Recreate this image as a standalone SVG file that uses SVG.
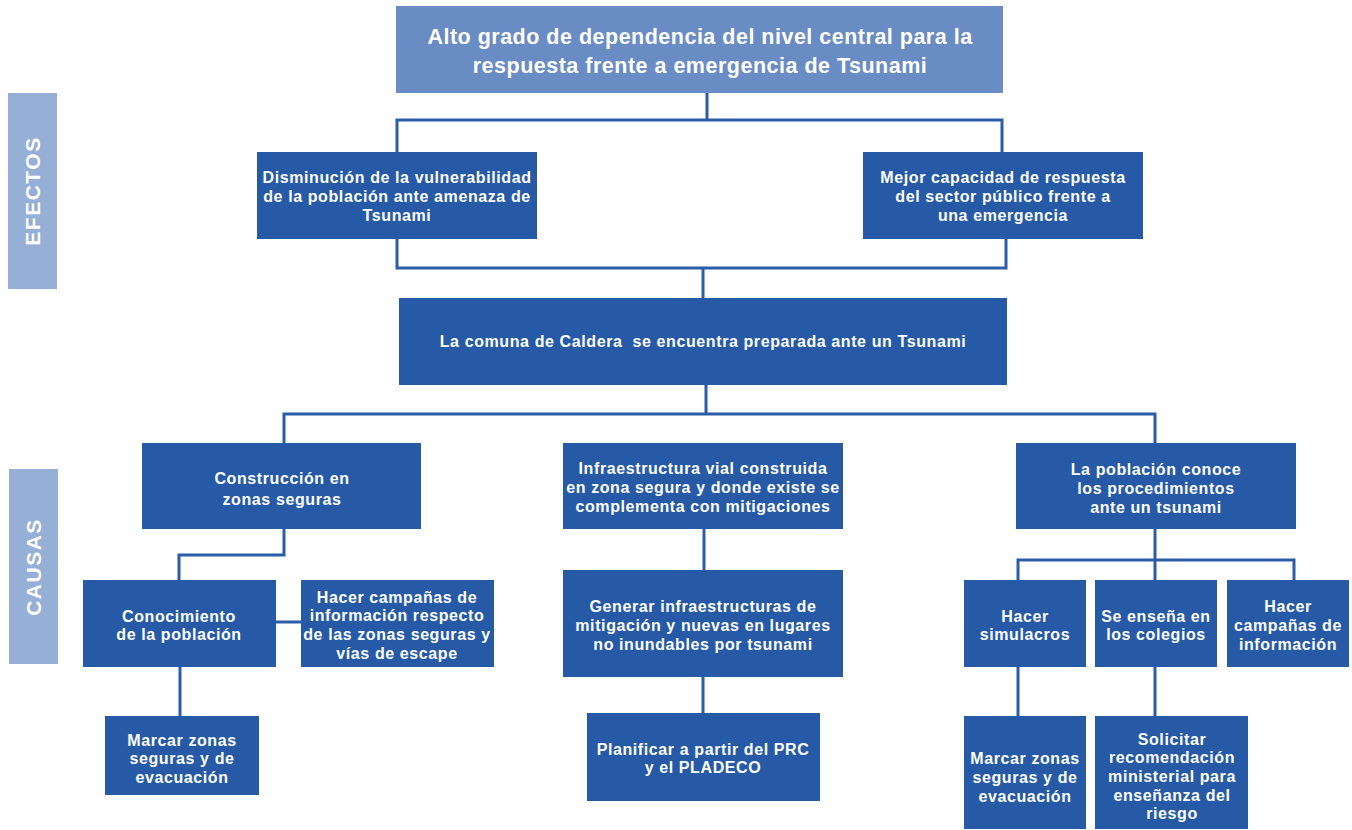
<svg xmlns="http://www.w3.org/2000/svg" width="1352" height="830" viewBox="0 0 1352 830">
<style>
.box{fill:#265AA7}
.top{fill:#6A8CC4}
.side{fill:#95AFD6}
.t{font-family:"Liberation Sans",Arial,sans-serif;font-weight:700;fill:#fff;text-anchor:middle;font-size:16px;letter-spacing:0.6px;white-space:pre}
.tt{font-size:21.5px;letter-spacing:0.5px}
.sl{font-family:"Liberation Sans",Arial,sans-serif;font-weight:700;fill:#fff;text-anchor:middle;font-size:21px;letter-spacing:1.5px}
.c{fill:none;stroke:#2B5DA8;stroke-width:3}
</style>
<rect width="1352" height="830" fill="#fff"/>
<g id="connectors">
<path class="c" d="M707 93V120M397 152V120H1002V152"/>
<path class="c" d="M397 239V268H1006V239M703 268V298"/>
<path class="c" d="M706 385V414M284 443V414H1155V443"/>
<path class="c" d="M284 529V555H179V580M276 622H301M180 667V716"/>
<path class="c" d="M704 529V570M703 677V713"/>
<path class="c" d="M1155 529V580M1018 580V560H1294V580M1018 667V716M1155 667V716"/>
</g>
<g id="label-efectos"><rect class="side" x="8" y="93" width="49" height="196"/><text class="sl" transform="translate(40 191) rotate(-90)">EFECTOS</text></g>
<g id="label-causas"><rect class="side" x="9" y="469" width="49" height="195"/><text class="sl" transform="translate(41 567) rotate(-90)">CAUSAS</text></g>
<g id="n-top"><rect class="top" x="396" y="6" width="607" height="87"/><text class="t tt"><tspan x="700" y="44">Alto grado de dependencia del nivel central para la</tspan><tspan x="700" y="73">respuesta frente a emergencia de Tsunami</tspan></text></g>
<g id="n-ef1"><rect class="box" x="257" y="152" width="280" height="87"/><text class="t"><tspan x="397" y="183">Disminución de la vulnerabilidad</tspan><tspan x="397" y="202">de la población ante amenaza de</tspan><tspan x="397" y="221">Tsunami</tspan></text></g>
<g id="n-ef2"><rect class="box" x="863" y="152" width="280" height="87"/><text class="t"><tspan x="1003" y="183">Mejor capacidad de respuesta</tspan><tspan x="1003" y="202">del sector público frente a</tspan><tspan x="1003" y="221">una emergencia</tspan></text></g>
<g id="n-center"><rect class="box" x="399" y="298" width="608" height="87"/><text class="t"><tspan x="703" y="347">La comuna de Caldera  se encuentra preparada ante un Tsunami</tspan></text></g>
<g id="n-c1"><rect class="box" x="142" y="443" width="279" height="86"/><text class="t"><tspan x="282" y="484">Construcción en</tspan><tspan x="282" y="505">zonas seguras</tspan></text></g>
<g id="n-c2"><rect class="box" x="563" y="443" width="280" height="86"/><text class="t"><tspan x="703" y="474">Infraestructura vial construida</tspan><tspan x="703" y="493">en zona segura y donde existe se</tspan><tspan x="703" y="512">complementa con mitigaciones</tspan></text></g>
<g id="n-c3"><rect class="box" x="1016" y="443" width="280" height="86"/><text class="t"><tspan x="1156" y="475">La población conoce</tspan><tspan x="1156" y="494">los procedimientos</tspan><tspan x="1156" y="513">ante un tsunami</tspan></text></g>
<g id="n-conoc"><rect class="box" x="83" y="580" width="193" height="87"/><text class="t"><tspan x="179" y="622">Conocimiento</tspan><tspan x="179" y="640">de la población</tspan></text></g>
<g id="n-campanas1"><rect class="box" x="301" y="580" width="193" height="87"/><text class="t"><tspan x="397" y="603">Hacer campañas de</tspan><tspan x="397" y="621">información respecto</tspan><tspan x="397" y="640">de las zonas seguras y</tspan><tspan x="397" y="659">vías de escape</tspan></text></g>
<g id="n-marcar1"><rect class="box" x="105" y="716" width="154" height="79"/><text class="t"><tspan x="182" y="746">Marcar zonas</tspan><tspan x="182" y="764">seguras y de</tspan><tspan x="182" y="783">evacuación</tspan></text></g>
<g id="n-generar"><rect class="box" x="563" y="570" width="280" height="107"/><text class="t"><tspan x="703" y="612">Generar infraestructuras de</tspan><tspan x="703" y="631">mitigación y nuevas en lugares</tspan><tspan x="703" y="650">no inundables por tsunami</tspan></text></g>
<g id="n-planificar"><rect class="box" x="587" y="713" width="233" height="88"/><text class="t"><tspan x="703" y="755">Planificar a partir del PRC</tspan><tspan x="703" y="773">y el PLADECO</tspan></text></g>
<g id="n-simulacros"><rect class="box" x="964" y="580" width="122" height="87"/><text class="t"><tspan x="1025" y="622">Hacer</tspan><tspan x="1025" y="640">simulacros</tspan></text></g>
<g id="n-colegios"><rect class="box" x="1095" y="580" width="122" height="87"/><text class="t"><tspan x="1156" y="622">Se enseña en</tspan><tspan x="1156" y="640">los colegios</tspan></text></g>
<g id="n-campanas2"><rect class="box" x="1227" y="580" width="122" height="87"/><text class="t"><tspan x="1288" y="612">Hacer</tspan><tspan x="1288" y="631">campañas de</tspan><tspan x="1288" y="650">información</tspan></text></g>
<g id="n-marcar2"><rect class="box" x="964" y="716" width="122" height="113"/><text class="t"><tspan x="1025" y="764">Marcar zonas</tspan><tspan x="1025" y="783">seguras y de</tspan><tspan x="1025" y="802">evacuación</tspan></text></g>
<g id="n-solicitar"><rect class="box" x="1095" y="716" width="153" height="113"/><text class="t"><tspan x="1172" y="745">Solicitar</tspan><tspan x="1172" y="763">recomendación</tspan><tspan x="1172" y="782">ministerial para</tspan><tspan x="1172" y="801">enseñanza del</tspan><tspan x="1172" y="819">riesgo</tspan></text></g>
</svg>
